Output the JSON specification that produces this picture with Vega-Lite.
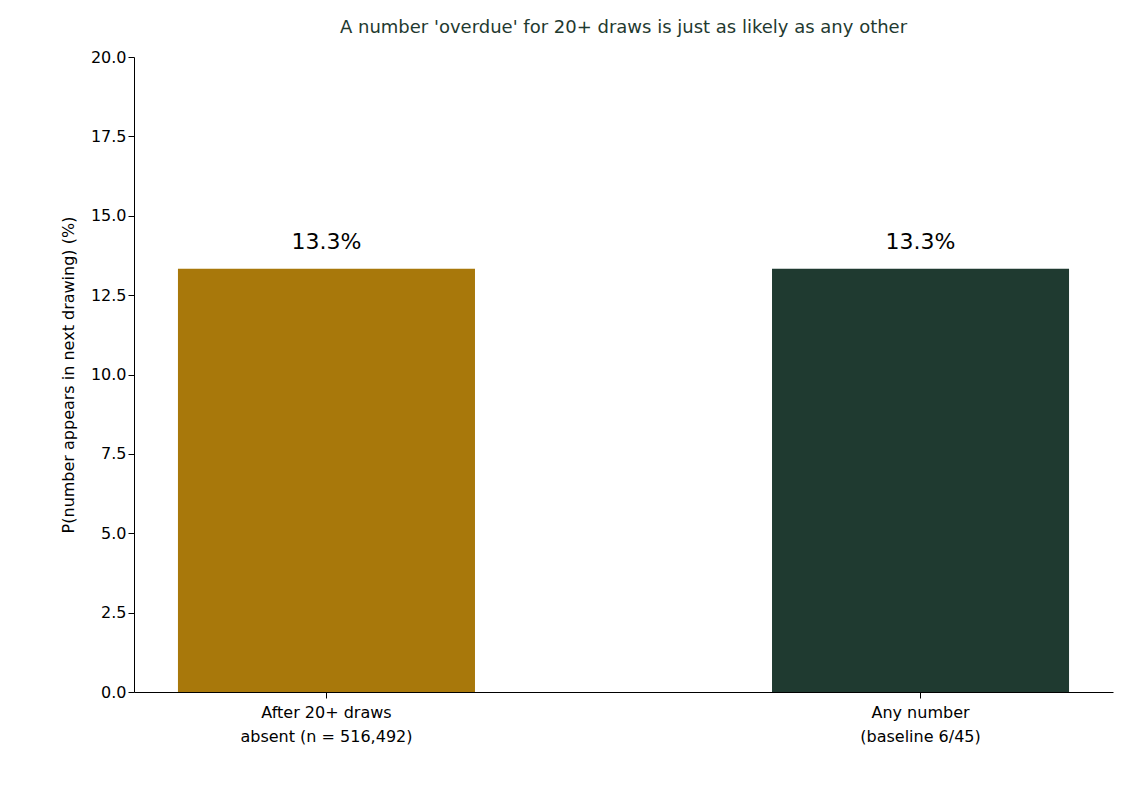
{
  "$schema": "https://vega.github.io/schema/vega-lite/v6.json",
  "autosize": {"type": "none"},
  "padding": {"left": 134, "top": 57, "right": 19, "bottom": 95},
  "width": 979,
  "height": 635,
  "title": {"text": "A number 'overdue' for 20+ draws is just as likely as any other", "color": "#1f3a30", "fontSize": 18, "fontWeight": "normal", "offset": 12, "anchor": "middle"},
  "data": {"values": [
    {"group": "After 20+ draws|absent (n = 516,492)", "p": 13.33, "label": "13.3%"},
    {"group": "Any number|(baseline 6/45)", "p": 13.33, "label": "13.3%"}
  ]},
  "encoding": {
    "x": {
      "field": "group", "type": "nominal", "sort": null, "title": null,
      "scale": {"paddingInner": 0.5, "paddingOuter": 0.074},
      "axis": {"labelAngle": 0, "labelExpr": "split(datum.label, '|')", "labelFontSize": 16, "labelLineHeight": 24, "labelPadding": 6}
    },
    "y": {
      "field": "p", "type": "quantitative", "title": "P(number appears in next drawing)  (%)",
      "scale": {"domain": [0, 20]},
      "axis": {"values": [0, 2.5, 5, 7.5, 10, 12.5, 15, 17.5, 20], "labelExpr": "format(datum.value, '.1f')", "labelFontSize": 16, "titleFontSize": 16, "titleFontWeight": "normal", "titlePadding": 14, "grid": false}
    }
  },
  "layer": [
    {
      "mark": {"type": "bar"},
      "encoding": {
        "color": {"field": "group", "type": "nominal", "sort": null, "legend": null,
          "scale": {"range": ["#a8780b", "#1f3a30"]}}
      }
    },
    {
      "mark": {"type": "text", "dy": -27, "fontSize": 22, "color": "#000"},
      "encoding": {"text": {"field": "label"}}
    }
  ],
  "config": {
    "font": "DejaVu Sans",
    "view": {"stroke": null},
    "axis": {"domainColor": "#000", "tickColor": "#000", "labelColor": "#000", "titleColor": "#000", "tickSize": 6}
  }
}
